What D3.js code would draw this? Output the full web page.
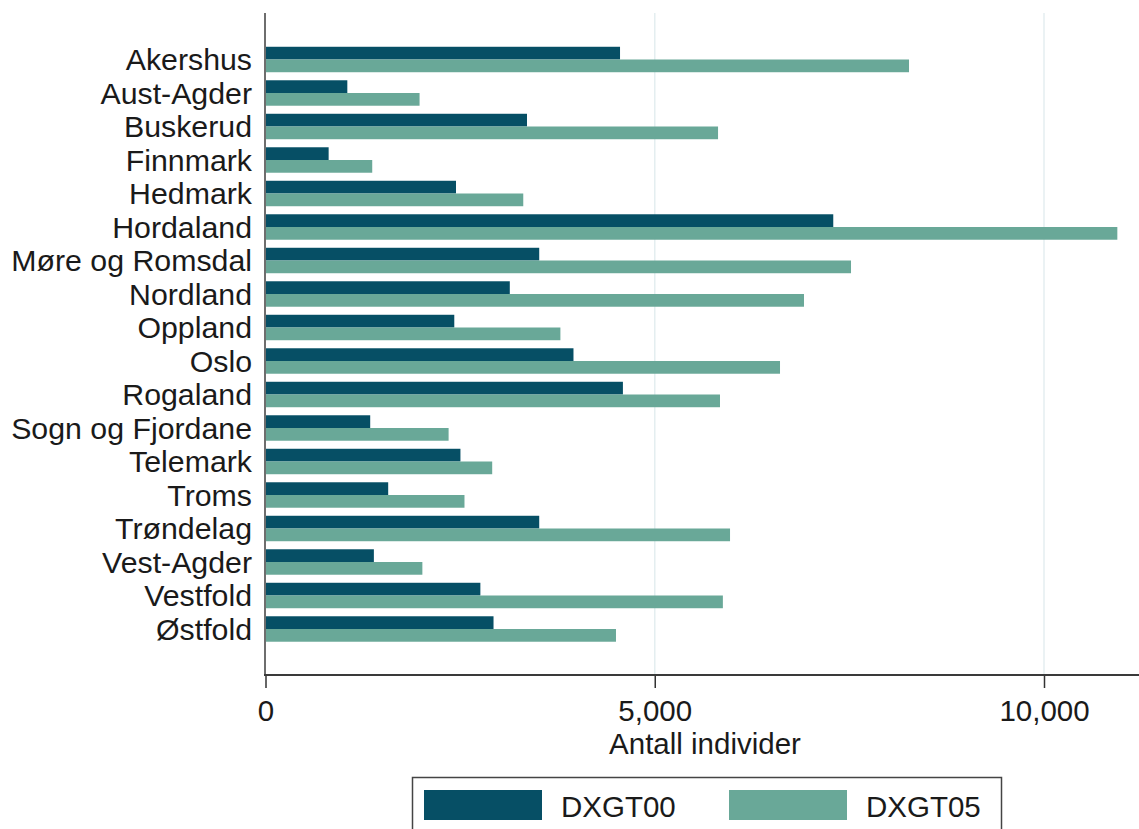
<!DOCTYPE html>
<html>
<head>
<meta charset="utf-8">
<script src="https://cdn.jsdelivr.net/npm/d3@7"></script>
<style>
  html, body { margin: 0; padding: 0; background: #fff; }
  svg { display: block; }
  text { font-family: "Liberation Sans", Arial, sans-serif; fill: #1a1a1a; }
</style>
</head>
<body>
<svg id="chart" width="1139" height="829"></svg>
<script>
const categories = ["Akershus","Aust-Agder","Buskerud","Finnmark","Hedmark","Hordaland","Møre og Romsdal","Nordland","Oppland","Oslo","Rogaland","Sogn og Fjordane","Telemark","Troms","Trøndelag","Vest-Agder","Vestfold","Østfold"];
const seriesNames = ["DXGT00","DXGT05"];
const dxgt00 = [4554,1051,3359,811,2447,7293,3516,3138,2425,3956,4591,1345,2504,1576,3516,1392,2760,2929];
const dxgt05 = [8266,1979,5813,1371,3311,10942,7521,6917,3788,6609,5838,2352,2912,2556,5967,2015,5875,4502];
const xTicks = [0,5000,10000];
const axisTitle = "Antall individer";
const colors = ["#064f65","#69a898"];

const data = categories.map((c,i) => ({cat:c, values:[dxgt00[i], dxgt05[i]]}));

const svg = d3.select("#chart");
const W = 1139;
const plotTop = 13, plotBottom = 675;

const x = d3.scaleLinear().domain([0,10000]).range([265.5,1044]);
const y = d3.scaleBand().domain(categories).range([42.75,645.75]).paddingInner(0.24).paddingOuter(0.12);
const ys = d3.scaleBand().domain(seriesNames).range([0,y.bandwidth()]).padding(0);
const color = d3.scaleOrdinal().domain(seriesNames).range(colors);

// gridlines
svg.append("g").selectAll("line").data(xTicks.filter(d => d>0)).join("line")
  .attr("x1", d=>x(d)).attr("x2", d=>x(d))
  .attr("y1", plotTop).attr("y2", plotBottom)
  .attr("stroke", "#e4eef0").attr("stroke-width", 1.5);

// bars
const groups = svg.append("g").selectAll("g").data(data).join("g")
  .attr("transform", d => `translate(0,${y(d.cat)})`);
groups.selectAll("rect").data(d => d.values.map((v,j)=>({s:seriesNames[j], v}))).join("rect")
  .attr("x", x(0))
  .attr("y", d => ys(d.s))
  .attr("width", d => x(d.v) - x(0))
  .attr("height", ys.bandwidth())
  .attr("fill", d => color(d.s));

// y axis line
svg.append("line").attr("x1", 265).attr("x2", 265).attr("y1", plotTop).attr("y2", plotBottom)
  .attr("stroke", "#6e6e6e").attr("stroke-width", 2);

// category labels
svg.append("g").selectAll("text").data(categories).join("text")
  .attr("x", 252).attr("y", d => y(d) + y.bandwidth()/2)
  .attr("dy", "0.36em")
  .attr("text-anchor", "end")
  .attr("font-size", 30.3)
  .text(d => d);

// x axis
const xAxis = d3.axisBottom(x).tickValues(xTicks).tickFormat(d3.format(",")).tickSize(13).tickPadding(12);
const gx = svg.append("g").attr("transform", `translate(0,${plotBottom})`).call(xAxis);
gx.select(".domain").remove();
gx.selectAll(".tick line").attr("stroke", "#333").attr("stroke-width", 1.5);
gx.selectAll(".tick text").attr("font-size", 29.5).attr("fill", "#1a1a1a")
  .attr("font-family", "'Liberation Sans', Arial, sans-serif");
svg.append("line").attr("x1", 264).attr("x2", W).attr("y1", plotBottom).attr("y2", plotBottom)
  .attr("stroke", "#3a3a3a").attr("stroke-width", 2);

// axis title
svg.append("text").attr("x", 705).attr("y", 754).attr("text-anchor", "middle")
  .attr("font-size", 29.5).text(axisTitle);

// legend
const lg = svg.append("g");
lg.append("rect").attr("x", 412.5).attr("y", 777.5).attr("width", 589).attr("height", 60)
  .attr("fill", "#fff").attr("stroke", "#444").attr("stroke-width", 1.5);
const legendItems = [{s:seriesNames[0], sx:424, tx:561},{s:seriesNames[1], sx:729, tx:866}];
legendItems.forEach(it => {
  lg.append("rect").attr("x", it.sx).attr("y", 790).attr("width", 118).attr("height", 30)
    .attr("fill", color(it.s));
  lg.append("text").attr("x", it.tx).attr("y", 817).attr("font-size", 29.5).text(it.s);
});
</script>
</body>
</html>
